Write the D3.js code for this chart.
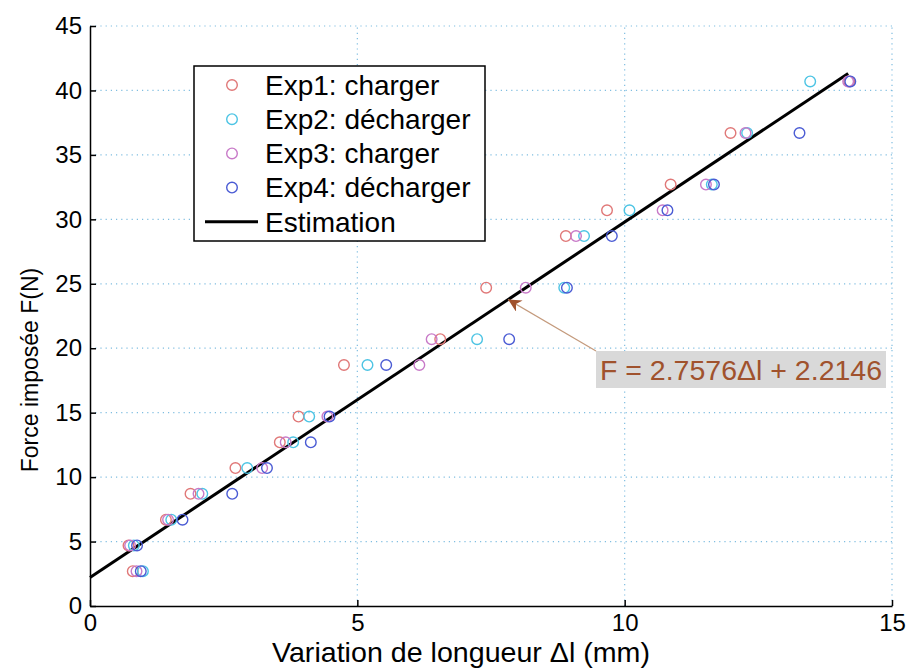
<!DOCTYPE html>
<html><head><meta charset="utf-8">
<script src="https://cdn.jsdelivr.net/npm/d3@7/dist/d3.min.js"></script>
<style>body{margin:0;background:#fff}svg{display:block;font-family:"Liberation Sans",Arial,sans-serif}</style>
</head><body>
<script>
const forces = [2.7, 4.7, 6.7, 8.7, 10.7, 12.7, 14.7, 18.7, 20.7, 24.7, 28.7, 30.7, 32.7, 36.7, 40.7];
const exp1 = [0.80, 0.72, 1.42, 1.88, 2.72, 3.55, 3.90, 4.75, 6.55, 7.41, 8.90, 9.67, 10.86, 11.98, 14.20];
const exp2 = [0.99, 0.82, 1.52, 2.10, 2.94, 3.80, 4.10, 5.19, 7.24, 8.87, 9.24, 10.09, 11.63, 12.29, 13.47];
const exp3 = [0.87, 0.75, 1.46, 2.03, 3.22, 3.66, 4.44, 6.16, 6.39, 8.15, 9.09, 10.71, 11.52, 12.26, 14.18];
const exp4 = [0.95, 0.88, 1.73, 2.66, 3.31, 4.13, 4.48, 5.54, 7.84, 8.92, 9.76, 10.80, 11.67, 13.27, 14.22];
const seriesNames = ["Exp1: charger", "Exp2: décharger", "Exp3: charger", "Exp4: décharger"];
const seriesColors = ["#e07878", "#4cc4e4", "#c87ac8", "#4a5bd4"];
const fitSlope = 2.7576, fitIntercept = 2.2146, fitRange = [0, 14.18];
const xTicks = [0, 5, 10, 15];
const yTicks = [0, 5, 10, 15, 20, 25, 30, 35, 40, 45];
const annotationText = "F = 2.7576\u0394l + 2.2146";
const annotationAt = 7.82;

const W = 910, H = 668;
const m = {l: 90, r: 18, t: 26, b: 62};
const svg = d3.select("body").append("svg").attr("width", W).attr("height", H);
const x = d3.scaleLinear().domain([0, 15]).range([m.l, W - m.r]);
const y = d3.scaleLinear().domain([0, 45]).range([H - m.b, m.t]);

// grid
const grid = svg.append("g").attr("stroke", "#7fbde0").attr("stroke-width", 1.2).attr("stroke-dasharray", "1.2,4");
grid.selectAll(".gx").data(xTicks.filter(d => d > 0)).join("line")
  .attr("x1", d => x(d)).attr("x2", d => x(d)).attr("y1", y(0)).attr("y2", y(45));
grid.selectAll(".gy").data(yTicks.filter(d => d > 0)).join("line")
  .attr("y1", d => y(d)).attr("y2", d => y(d)).attr("x1", x(0)).attr("x2", x(15));

// axes
const fs = 24;
const ax = svg.append("g").attr("transform", `translate(0,${y(0)})`)
  .call(d3.axisBottom(x).tickValues(xTicks).tickSizeInner(-6).tickSizeOuter(0).tickPadding(8));
const ay = svg.append("g").attr("transform", `translate(${x(0)},0)`)
  .call(d3.axisLeft(y).tickValues(yTicks).tickSizeInner(-6).tickSizeOuter(0).tickPadding(8));
[ax, ay].forEach(g => {
  g.select(".domain").attr("stroke", "#000").attr("stroke-width", 1.5);
  g.selectAll(".tick line").attr("stroke", "#000").attr("stroke-width", 1.5);
  g.selectAll(".tick text").attr("font-size", fs).attr("fill", "#000").attr("font-family", "Liberation Sans, Arial, sans-serif");
});

svg.append("text").attr("x", 461).attr("y", 662).attr("text-anchor", "middle")
  .attr("font-size", 28).attr("textLength", 378).attr("lengthAdjust", "spacingAndGlyphs")
  .text("Variation de longueur \u0394l (mm)");
svg.append("text").attr("transform", `translate(38,${370}) rotate(-90)`).attr("text-anchor", "middle")
  .attr("font-size", 23).text("Force imposée F(N)");

// fit line
const fitLine = d3.line().x(d => x(d)).y(d => y(fitSlope * d + fitIntercept));
svg.append("path").datum(fitRange).attr("d", fitLine).attr("fill", "none")
  .attr("stroke", "#000").attr("stroke-width", 3);

// points
const allSeries = [exp1, exp2, exp3, exp4];
allSeries.forEach((xs, i) => {
  svg.append("g").selectAll("circle").data(xs.map((v, k) => [v, forces[k]])).join("circle")
    .attr("cx", d => x(d[0])).attr("cy", d => y(d[1])).attr("r", 5.3)
    .attr("fill", "none").attr("stroke", seriesColors[i]).attr("stroke-width", 1.4);
});

// legend
const lg = svg.append("g");
lg.append("rect").attr("x", 194).attr("y", 66).attr("width", 291).attr("height", 175)
  .attr("fill", "#fff").attr("stroke", "#000").attr("stroke-width", 1.5);
const rowY = k => 85 + k * 34.2;
seriesNames.forEach((n, i) => {
  lg.append("circle").attr("cx", 232).attr("cy", rowY(i)).attr("r", 5.3)
    .attr("fill", "none").attr("stroke", seriesColors[i]).attr("stroke-width", 1.4);
  lg.append("text").attr("x", 265).attr("y", rowY(i)).attr("dy", "0.35em").attr("font-size", 28).text(n);
});
lg.append("line").attr("x1", 205).attr("x2", 258).attr("y1", rowY(4)).attr("y2", rowY(4))
  .attr("stroke", "#000").attr("stroke-width", 3);
lg.append("text").attr("x", 265).attr("y", rowY(4)).attr("dy", "0.35em").attr("font-size", 28).text("Estimation");

// annotation
const defs = svg.append("defs");
defs.append("marker").attr("id", "ah").attr("viewBox", "0 0 10 10").attr("refX", 10).attr("refY", 5)
  .attr("markerWidth", 13).attr("markerHeight", 13).attr("markerUnits", "userSpaceOnUse").attr("orient", "auto")
  .append("path").attr("d", "M0,0 L10,5 L0,10 L3,5 Z").attr("fill", "#a0522d");
const tipX = x(annotationAt), tipY = y(fitSlope * annotationAt + fitIntercept);
svg.append("line").attr("x1", 596).attr("y1", 351).attr("x2", tipX).attr("y2", tipY)
  .attr("stroke", "#c49a7c").attr("stroke-width", 1.2).attr("marker-end", "url(#ah)");
svg.append("rect").attr("x", 596).attr("y", 351).attr("width", 290).attr("height", 37).attr("fill", "#d9d9d9");
svg.append("text").attr("x", 741).attr("y", 370).attr("dy", "0.35em").attr("text-anchor", "middle")
  .attr("font-size", 28.5).attr("fill", "#a0522d").text(annotationText);
</script>
</body></html>
